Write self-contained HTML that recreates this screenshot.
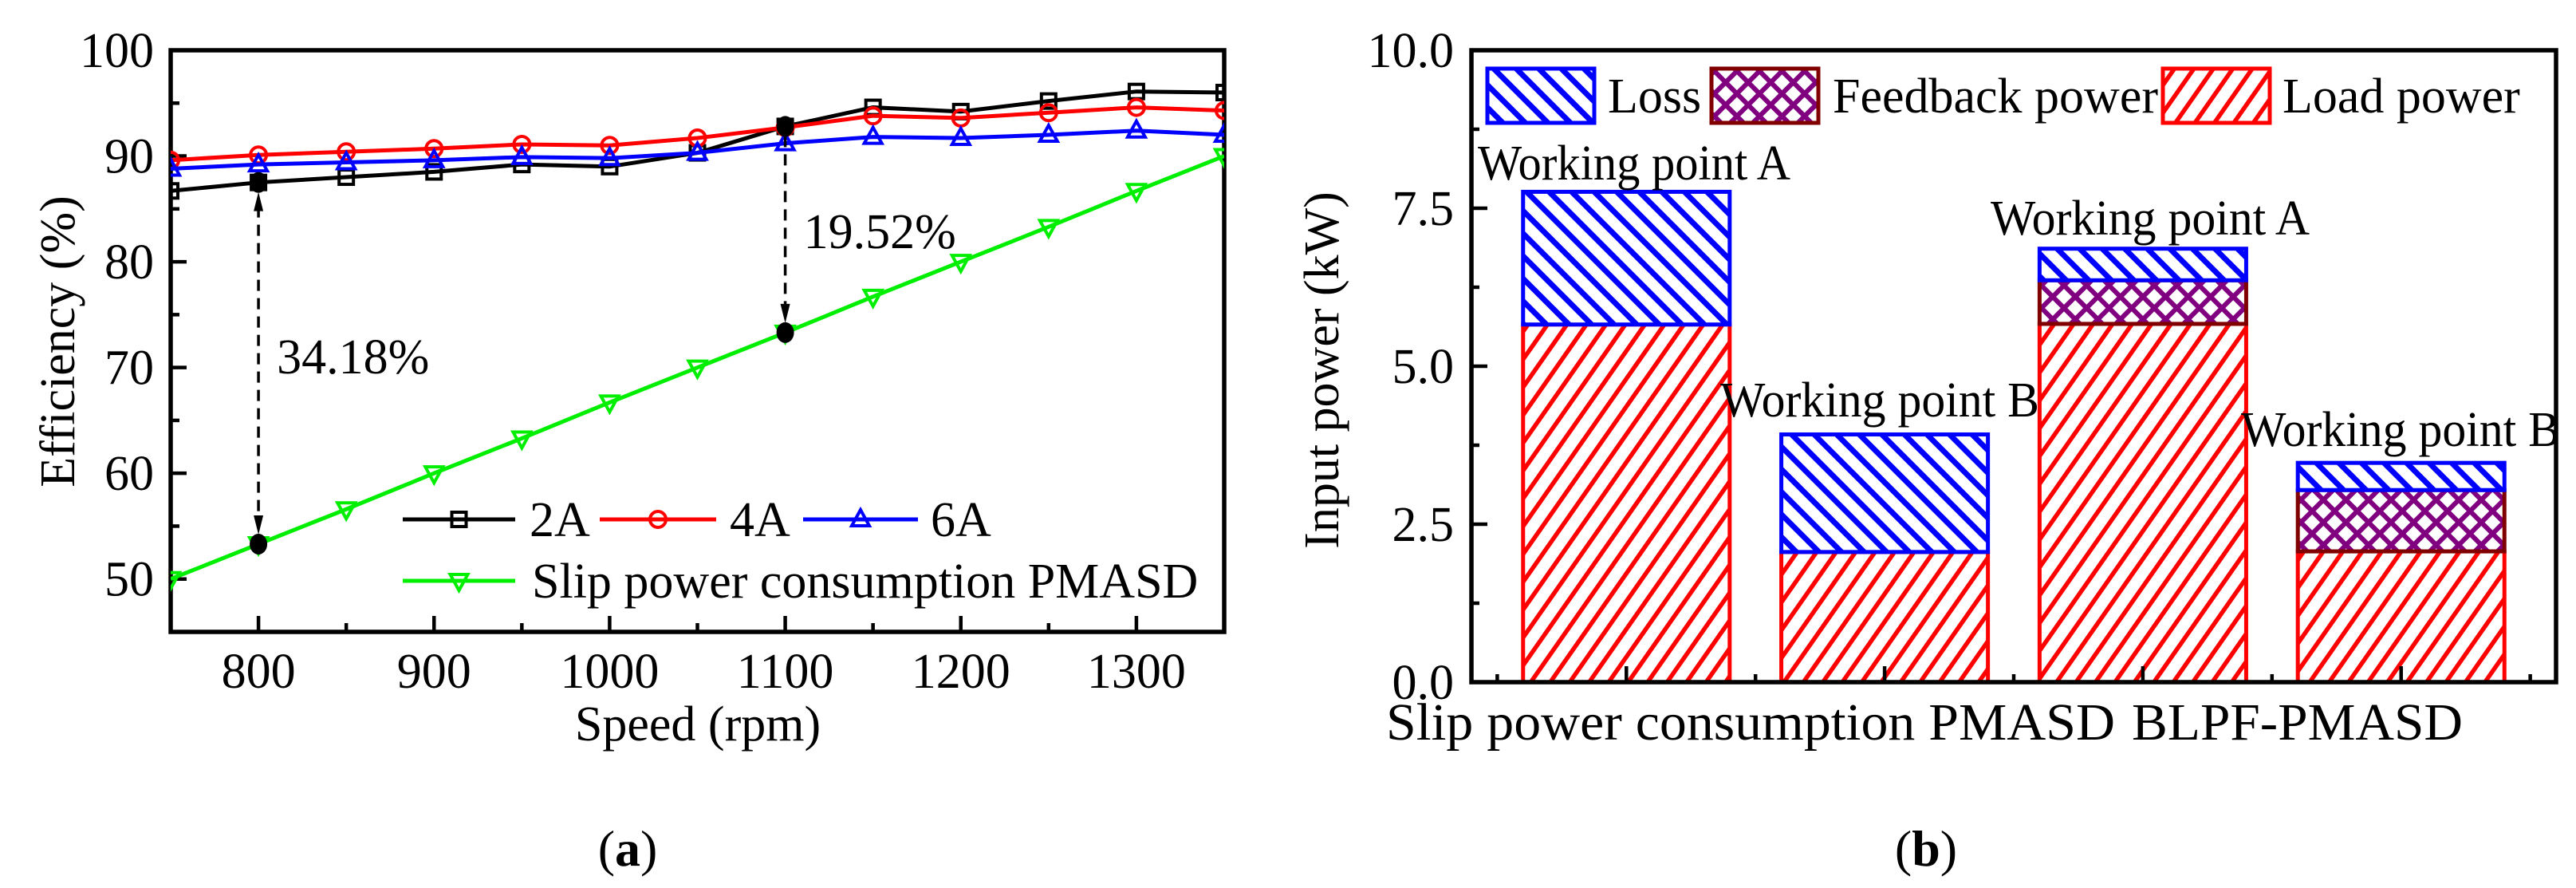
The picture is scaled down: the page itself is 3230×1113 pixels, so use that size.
<!DOCTYPE html>
<html><head><meta charset="utf-8"><style>
html,body{margin:0;padding:0;background:#fff;}
svg{display:block;font-family:"Liberation Serif",serif;}
</style></head><body>
<svg id="fig" width="3230" height="1113" viewBox="0 0 3230 1113" xmlns="http://www.w3.org/2000/svg">
<defs>
<pattern id="hLoss" patternUnits="userSpaceOnUse" width="20" height="20" patternTransform="rotate(-45)">
<rect width="20" height="20" fill="#fff"/><rect x="0" y="0" width="7" height="20" fill="#0000ff"/></pattern>
<pattern id="hLoad" patternUnits="userSpaceOnUse" width="20" height="20" patternTransform="rotate(35)">
<rect width="20" height="20" fill="#fff"/><rect x="0" y="0" width="5.5" height="20" fill="#ff0000"/></pattern>
<pattern id="hFb" patternUnits="userSpaceOnUse" width="20" height="20" patternTransform="rotate(45)">
<rect width="20" height="20" fill="#fff"/><rect x="0" y="0" width="6" height="20" fill="#800080"/><rect x="0" y="0" width="20" height="6" fill="#800080"/></pattern>
</defs>
<g id="chartA"></g>
<g id="chartB"></g>
<text x="787" y="1085" font-size="64" text-anchor="middle">(<tspan font-weight="bold">a</tspan>)</text>
<text x="2415" y="1085" font-size="64" text-anchor="middle">(<tspan font-weight="bold">b</tspan>)</text>
</svg>
<script>
const speeds=[750,800,850,900,950,1000,1050,1100,1150,1200,1250,1300,1350];
const eff2A=[86.7,87.5,88,88.5,89.2,89,90.3,92.8,94.6,94.2,95.2,96.1,96];
const eff4A=[89.6,90.1,90.4,90.7,91.1,91,91.7,92.7,93.8,93.6,94.1,94.6,94.3];
const eff6A=[88.8,89.2,89.4,89.6,89.9,89.8,90.3,91.2,91.8,91.7,92,92.4,92];
const effSlip=[50,53.3,56.6,60,63.3,66.7,70,73.3,76.7,80,83.3,86.7,90];
const xTicksA=[800,900,1000,1100,1200,1300];
const yTicksA=[50,60,70,80,90,100];
const annSpeeds=[800,1100];
const annLabels=["34.18%","19.52%"];

const barCats=[1,2,3,4];
const loadPower=[5.66,2.06,5.67,2.07];
const feedbackPower=[0,0,0.69,0.97];
const lossPower=[2.1,1.86,0.5,0.43];
const barLabels=["Working point A","Working point B","Working point A","Working point B"];
const yTicksB=[0,2.5,5,7.5,10];
const yTickLabelsB=["0.0","2.5","5.0","7.5","10.0"];

const NS="http://www.w3.org/2000/svg";
function mk(parent,tag,attrs,text){const e=document.createElementNS(NS,tag);for(const k in attrs)e.setAttribute(k,attrs[k]);if(text!==undefined)e.textContent=text;parent.appendChild(e);return e;}

// ---------- Chart A ----------
const A=document.getElementById('chartA');
const aL=214,aR=1535,aT=63,aB=792;
const xA=v=>aL+(v-750)/(1350-750)*(aR-aL);
const yA=v=>aB-(v-45)/(100-45)*(aB-aT);
let e;
e=mk(A,'rect',{x:aL,y:aT,width:aR-aL,height:aB-aT,fill:'none',stroke:'#000','stroke-width':5.5});


for(let v=800;v<=1300;v+=50){const major=v%100===0;
 e=mk(A,'line',{x1:xA(v),x2:xA(v),y1:aB,y2:aB-(major?20:11),stroke:'#000','stroke-width':4.5});
 
 }
for(let v=50;v<=95;v+=5){const major=v%10===0;
 e=mk(A,'line',{x1:aL,x2:aL+(major?20:11),y1:yA(v),y2:yA(v),stroke:'#000','stroke-width':4.5});
 
 }
xTicksA.forEach(v=>{e=mk(A,'text',{x:xA(v),y:862,'font-size':62,'text-anchor':'middle'},String(v));
 
 });
yTicksA.forEach(v=>{e=mk(A,'text',{x:193,y:yA(v)+21,'font-size':62,'text-anchor':'end'},String(v));
 
 });
e=mk(A,'text',{x:875,y:928,'font-size':62,'text-anchor':'middle'},'Speed (rpm)');


e=mk(A,'text',{x:0,y:0,'font-size':62,'text-anchor':'middle',transform:'translate(93,428) rotate(-90)'},'Efficiency (%)');



function marker(g,type,cx,cy,color){
 if(type==='sq')return mk(g,'rect',{x:cx-9,y:cy-9,width:18,height:18,fill:'none',stroke:color,'stroke-width':4});
 if(type==='ci')return mk(g,'circle',{cx:cx,cy:cy,r:10,fill:'none',stroke:color,'stroke-width':4});
 if(type==='up')return mk(g,'polygon',{points:`${cx},${cy-12} ${cx-11},${cy+8} ${cx+11},${cy+8}`,fill:'none',stroke:color,'stroke-width':4});
 return mk(g,'polygon',{points:`${cx},${cy+12} ${cx-11},${cy-8} ${cx+11},${cy-8}`,fill:'none',stroke:color,'stroke-width':4});
}
const clipA=mk(A,'clipPath',{id:'clipA'});mk(clipA,'rect',{x:aL,y:aT,width:aR-aL,height:aB-aT});
const series=[{n:'series-2a',d:eff2A,c:'#000',m:'sq'},{n:'series-4a',d:eff4A,c:'#ff0000',m:'ci'},{n:'series-6a',d:eff6A,c:'#0000ff',m:'up'},{n:'series-slip',d:effSlip,c:'#00ee00',m:'dn'}];
const seriesOrder=[3,0,1,2];
seriesOrder.forEach(i=>{const s=series[i];
 const g=mk(A,'g',{'clip-path':'url(#clipA)'});
 
 
 e=mk(g,'polyline',{points:s.d.map((v,j)=>xA(speeds[j])+','+yA(v)).join(' '),fill:'none',stroke:s.c,'stroke-width':5});
 
 
 s.d.forEach((v,j)=>{e=marker(g,s.m,xA(speeds[j]),yA(v),s.c);
  
  });
});
annSpeeds.forEach((sp,k)=>{const j=speeds.indexOf(sp);
 const top=yA(eff2A[j]),bot=yA(effSlip[j]),x=xA(sp);
 const g=mk(A,'g',{});
 
 
 if(k===0){mk(g,'line',{x1:x,x2:x,y1:top+30,y2:bot-28,stroke:'#000','stroke-width':3.5,'stroke-dasharray':'14,9'});
  mk(g,'polygon',{points:`${x},${top+12} ${x-6},${top+36} ${x+6},${top+36}`,fill:'#000'});
  mk(g,'polygon',{points:`${x},${bot-12} ${x-6},${bot-36} ${x+6},${bot-36}`,fill:'#000'});}
 else{mk(g,'line',{x1:x,x2:x,y1:top+12,y2:bot-28,stroke:'#000','stroke-width':3.5,'stroke-dasharray':'14,9'});
  mk(g,'polygon',{points:`${x},${bot-12} ${x-6},${bot-36} ${x+6},${bot-36}`,fill:'#000'});}
 mk(g,'ellipse',{cx:x,cy:top,rx:11,ry:13,fill:'#000'});
 mk(g,'ellipse',{cx:x,cy:bot,rx:11,ry:13,fill:'#000'});
 e=mk(A,'text',{x:x+23,y:k===0?468:311,'font-size':62},annLabels[k]);
 
 
});
const legA=mk(A,'g',{});


const legItems=[{i:0,x1:505,x2:646,y:651,t:'2A',tx:664},{i:1,x1:752,x2:898,y:651,t:'4A',tx:915},{i:2,x1:1007,x2:1151,y:651,t:'6A',tx:1167},{i:3,x1:505,x2:646,y:728,t:'Slip power consumption PMASD',tx:667}];
legItems.forEach(it=>{const s=series[it.i];
 const g=mk(legA,'g',{});
 
 
 mk(g,'line',{x1:it.x1,x2:it.x2,y1:it.y,y2:it.y,stroke:s.c,'stroke-width':5});
 marker(g,s.m,(it.x1+it.x2)/2,it.y,s.c);
 mk(g,'text',{x:it.tx,y:it.y+21,'font-size':62},it.t);
});

// ---------- Chart B ----------
const B=document.getElementById('chartB');
const bL=1845,bR=3205,bT=63,bB=855;
const xB=v=>bL+(v-0.4)/(4.6-0.4)*(bR-bL);
const yB=v=>bB-v/10*(bB-bT);
const bw=0.8*(bR-bL)/4.2;
barCats.forEach((c,i)=>{
 const g=mk(B,'g',{});
 
 
 const x=xB(c)-bw/2;
 const segs=[{v0:0,v1:loadPower[i],f:'url(#hLoad)',s:'#ff0000',n:'bar-load-power'},
  {v0:loadPower[i],v1:loadPower[i]+feedbackPower[i],f:'url(#hFb)',s:'#800000',n:'bar-feedback-power'},
  {v0:loadPower[i]+feedbackPower[i],v1:loadPower[i]+feedbackPower[i]+lossPower[i],f:'url(#hLoss)',s:'#0000ff',n:'bar-loss'}];
 segs.forEach(sg=>{if(sg.v1-sg.v0<=0)return;
  e=mk(g,'rect',{x:x,y:yB(sg.v1),width:bw,height:yB(sg.v0)-yB(sg.v1),fill:sg.f,stroke:sg.s,'stroke-width':5});
  
  });
});
const lblPos=[[1853,225],[2157,522],[2496,294],[2810,559]];
barLabels.forEach((t,i)=>{e=mk(B,'text',{x:lblPos[i][0],y:lblPos[i][1],'font-size':62,textLength:i===0?392:400,lengthAdjust:'spacingAndGlyphs'},t);
 
 });
e=mk(B,'rect',{x:bL,y:bT,width:bR-bL,height:bB-bT,fill:'none',stroke:'#000','stroke-width':5.5});


for(let v=0.5;v<=4.51;v+=0.5){const major=Math.abs(v-Math.round(v))<0.01;
 e=mk(B,'line',{x1:xB(v),x2:xB(v),y1:bB,y2:bB-(major?20:10),stroke:'#000','stroke-width':4.5});
 
 }
for(let v=1.25;v<10;v+=1.25){const major=Math.abs(v/2.5-Math.round(v/2.5))<0.01;
 e=mk(B,'line',{x1:bL,x2:bL+(major?20:10),y1:yB(v),y2:yB(v),stroke:'#000','stroke-width':4.5});
 
 }
yTicksB.forEach((v,i)=>{e=mk(B,'text',{x:1823,y:yB(v)+21,'font-size':62,'text-anchor':'end'},yTickLabelsB[i]);
 
 });
e=mk(B,'text',{x:1738,y:927,'font-size':66,textLength:914,lengthAdjust:'spacingAndGlyphs'},'Slip power consumption PMASD');


e=mk(B,'text',{x:2673,y:927,'font-size':66,textLength:415,lengthAdjust:'spacingAndGlyphs'},'BLPF-PMASD');


e=mk(B,'text',{x:0,y:0,'font-size':62,'text-anchor':'middle',transform:'translate(1678,464) rotate(-90)'},'Input power (kW)');


const legB=mk(B,'g',{});


[{x:1865,f:'url(#hLoss)',s:'#0000ff',t:'Loss',tx:2016},{x:2146,f:'url(#hFb)',s:'#800000',t:'Feedback power',tx:2298},{x:2712,f:'url(#hLoad)',s:'#ff0000',t:'Load power',tx:2862}].forEach(it=>{
 const g=mk(legB,'g',{});
 
 
 mk(g,'rect',{x:it.x,y:86,width:134,height:68,fill:it.f,stroke:it.s,'stroke-width':5});
 mk(g,'text',{x:it.tx,y:141,'font-size':62},it.t);
});
</script>
</body></html>
